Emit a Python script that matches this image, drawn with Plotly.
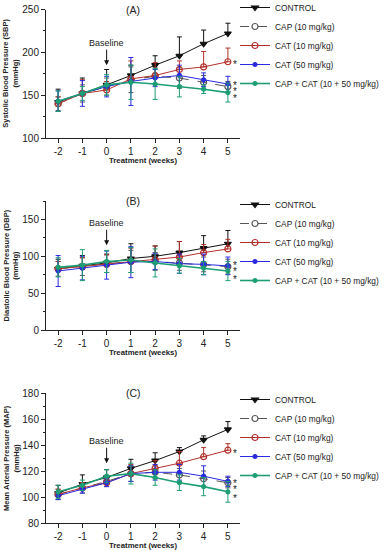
import plotly.graph_objects as go

weeks = [-2, -1, 0, 1, 2, 3, 4, 5]
week_ticks = [-2, -1, 0, 1, 2, 3, 4, 5]
week_tick_text = ["-2", "-1", "0", "1", "2", "3", "4", "5"]
names = ["CONTROL", "CAP (10 mg/kg)", "CAT (10 mg/kg)", "CAT (50 mg/kg)", "CAP + CAT (10 + 50 mg/kg)"]

# Panel A: SBP
sbp_control = [142, 152, 162, 173, 185, 196, 210, 222]
sbp_control_err = [15, 18, 18, 12, 11, 22, 16, 12]
sbp_cap = [140, 152, 160, 168, 172, 170, 165, 160]
sbp_cap_err = [8, 10, 10, 15, 10, 12, 8, 6]
sbp_cat10 = [140, 152, 156, 169, 173, 180, 183, 189]
sbp_cat10_err = [8, 16, 10, 21, 15, 10, 18, 16]
sbp_cat50 = [143, 152, 160, 166, 170, 173, 168, 163]
sbp_cat50_err = [12, 15, 12, 28, 10, 12, 8, 9]
sbp_combo = [143, 152, 162, 165, 163, 160, 157, 153]
sbp_combo_err = [12, 8, 12, 20, 18, 12, 5, 11]
sbp_star = [189, 165, 158, 150]

# Panel B: DBP
dbp_control = [83, 87, 91, 97, 100, 105, 111, 117]
dbp_control_err = [13, 14, 12, 20, 14, 15, 17, 18]
dbp_cap = [83, 86, 90, 93, 93, 91, 89, 86]
dbp_cap_err = [10, 12, 12, 15, 12, 10, 10, 10]
dbp_cat10 = [83, 86, 89, 93, 96, 99, 105, 110]
dbp_cat10_err = [10, 12, 13, 18, 18, 21, 11, 13]
dbp_cat50 = [80, 84, 88, 92, 93, 90, 89, 87]
dbp_cat50_err = [21, 16, 19, 21, 11, 13, 14, 12]
dbp_combo = [85, 88, 93, 95, 91, 87, 84, 80]
dbp_combo_err = [13, 21, 15, 17, 19, 10, 9, 13]
dbp_star = [92, 84, 73]

# Panel C: MAP
map_control = [103, 110, 115, 122, 128, 135, 144, 152]
map_control_err = [6, 7, 6, 7, 6, 3, 3, 6]
map_cap = [102, 107, 112, 118, 119, 117, 114, 111]
map_cap_err = [4, 4, 4, 6, 5, 5, 6, 4]
map_cat10 = [102, 107, 111, 118, 122, 126, 131, 136]
map_cat10_err = [4, 4, 3, 7, 6, 9, 7, 5]
map_cat50 = [101, 106, 111, 118, 119, 119, 116, 112]
map_cat50_err = [3, 3, 3, 6, 6, 6, 8, 4]
map_combo = [104, 109, 116, 118, 115, 111, 108, 104]
map_combo_err = [5, 4, 5, 8, 6, 6, 7, 8]
map_star = [136, 113, 108, 101]

baseline_tip = [185, 115, 126]

FONT = "Arial, Liberation Sans, sans-serif"
colors = ["#111111", "#555555", "#B3302B", "#2A2AE0", "#1E9E74"]
symbols = ["triangle-down", "circle-open", "circle-open", "circle", "circle"]
msizes = [6, 6, 6, 4, 4]
dashes = ["solid", "dash", "solid", "solid", "solid"]
lwidths = [1, 1, 1, 1, 1.6]
err_up_only = [True, False, True, False, False]

W, H = 387, 550

panels = [
    ("A", [sbp_control, sbp_cap, sbp_cat10, sbp_cat50, sbp_combo],
     [sbp_control_err, sbp_cap_err, sbp_cat10_err, sbp_cat50_err, sbp_combo_err],
     sbp_star, [100, 250], [100, 150, 200, 250], 25, "Systolic Blood Pressure (SBP)<br>(mmHg)",
     (138, 9.5), -7),
    ("B", [dbp_control, dbp_cap, dbp_cat10, dbp_cat50, dbp_combo],
     [dbp_control_err, dbp_cap_err, dbp_cat10_err, dbp_cat50_err, dbp_combo_err],
     dbp_star, [0, 175], [0, 50, 100, 150], 25, "Diastolic Blood Pressure (DBP)<br>(mmHg)",
     (330, 201), 190),
    ("C", [map_control, map_cap, map_cat10, map_cat50, map_combo],
     [map_control_err, map_cap_err, map_cat10_err, map_cat50_err, map_combo_err],
     map_star, [80, 180], [80, 100, 120, 140, 160, 180], 10, "Mean Arterial Pressure (MAP)<br>(mmHg)",
     (523, 393), 385),
]

fig = go.Figure()
annotations = []

def px_x(sx):
    return sx / W

def px_y(sy):
    return 1 - sy / H

for p, (label, series, errs, stars, yr, yt, minor_d, ytitle, (ybot, ytop), legtop) in enumerate(panels):
    sfx = "" if p == 0 else str(p + 1)
    legname = "legend" if p == 0 else "legend" + str(p + 1)
    for i in range(5):
        if err_up_only[i]:
            ey = dict(type="data", array=errs[i], arrayminus=[0] * len(errs[i]), symmetric=False,
                      color=colors[i], thickness=1, width=2.5)
        else:
            ey = dict(type="data", array=errs[i], color=colors[i], thickness=1, width=2.5)
        fig.add_trace(go.Scatter(
            x=weeks, y=series[i], name=names[i], mode="lines+markers",
            xaxis="x" + sfx, yaxis="y" + sfx, legend=legname,
            line=dict(color=colors[i], width=lwidths[i], dash=dashes[i]),
            marker=dict(symbol=symbols[i], size=msizes[i], color=colors[i],
                        line=dict(color=colors[i], width=1.2)),
            error_y=ey,
        ))
    d0 = px_y(ybot)
    d1 = px_y(ytop)
    fig.layout["xaxis" + sfx] = dict(
        domain=[px_x(46), px_x(240)], range=[-2.5, 5.5], tickvals=week_ticks, ticktext=week_tick_text,
        anchor="y" + sfx,
        showgrid=False, zeroline=False, showline=True, linecolor="#222", linewidth=1,
        ticks="outside", ticklen=4, tickcolor="#222", tickfont=dict(size=10, family=FONT, color="#222"),
    )
    fig.layout["yaxis" + sfx] = dict(
        domain=[d0, d1], range=yr, tickvals=yt, anchor="x" + sfx,
        showgrid=False, zeroline=False, showline=True, linecolor="#222", linewidth=1,
        ticks="outside", ticklen=4, tickcolor="#222", tickfont=dict(size=10, family=FONT, color="#222"),
        minor=dict(dtick=minor_d, tick0=yr[0], ticks="outside", ticklen=2, tickcolor="#222", showgrid=False),
    )
    fig.layout[legname] = dict(
        x=px_x(235), xanchor="left", y=px_y(legtop), yanchor="top",
        font=dict(size=8.4, family=FONT, color="#222"), bgcolor="rgba(0,0,0,0)",
        tracegroupgap=0, itemwidth=30,
    )
    # panel title
    annotations.append(dict(text="(" + label + ")", xref="x" + sfx, yref="y" + sfx, x=1.1, y=yr[1],
                            showarrow=False, font=dict(size=10.5, family=FONT, color="#222"), yanchor="middle"))
    # baseline arrow
    annotations.append(dict(text="Baseline", xref="x" + sfx, yref="y" + sfx, x=0, y=baseline_tip[p],
                            showarrow=True, arrowhead=2, arrowsize=1, arrowwidth=1, arrowcolor="#111",
                            ax=0, ay=-22, font=dict(size=9, family=FONT, color="#222")))
    # asterisks
    for s in stars:
        annotations.append(dict(text="*", xref="x" + sfx, yref="y" + sfx, x=5.3, y=s, showarrow=False,
                                yshift=-3, font=dict(size=10, family=FONT, color="#222")))
    # y title
    annotations.append(dict(text="<b>" + ytitle + "</b>", xref="paper", yref="paper", x=px_x(11),
                            y=(d0 + d1) / 2, textangle=-90, showarrow=False, xanchor="center", yanchor="middle",
                            font=dict(size=7.5, family=FONT, color="#222")))
    # x title
    annotations.append(dict(text="<b>Treatment (weeks)</b>", xref="paper", yref="paper", x=px_x(143),
                            y=px_y(min(ybot + 22, 545)), showarrow=False, xanchor="center", yanchor="middle",
                            font=dict(size=7.8, family=FONT, color="#222")))

fig.update_layout(
    width=W, height=H, margin=dict(l=0, r=0, t=0, b=0, autoexpand=False),
    paper_bgcolor="white", plot_bgcolor="white",
    annotations=annotations, showlegend=True,
    font=dict(family=FONT),
)

fig.write_html("out.html", config={"displayModeBar": False},
               post_script="document.body.style.margin='0';document.body.style.overflow='hidden';")
